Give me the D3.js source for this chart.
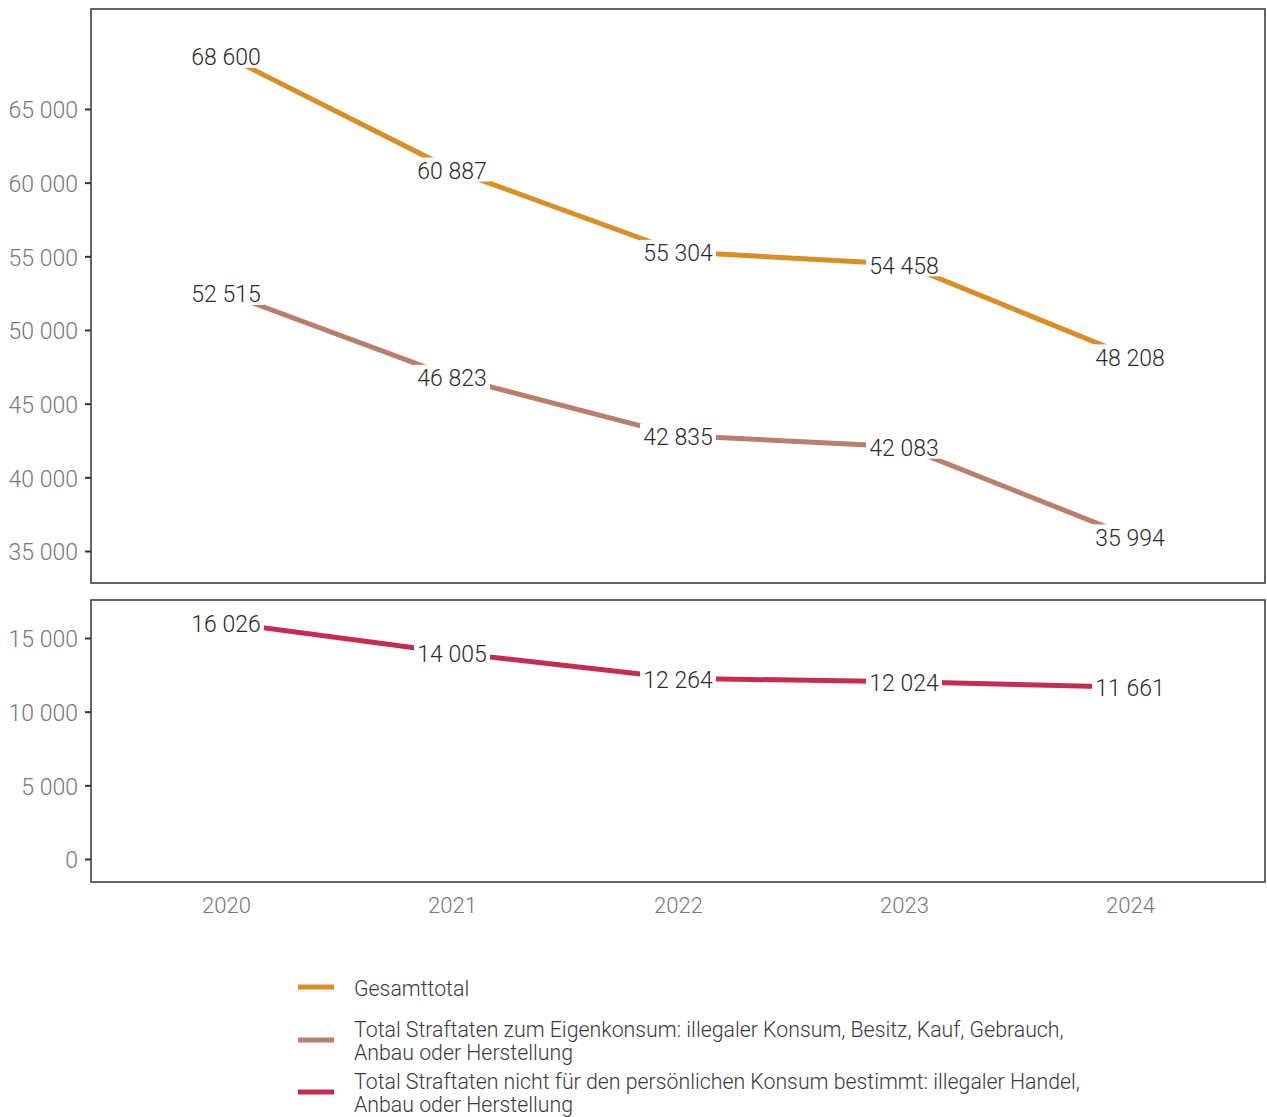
<!DOCTYPE html>
<html>
<head>
<meta charset="utf-8">
<script src="https://cdn.jsdelivr.net/npm/d3@7"></script>
<style>
  body { margin: 0; background: #fff; }
  svg text { font-family: Roboto, "Noto Sans", sans-serif; font-weight: 300; }
</style>
</head>
<body>
<svg id="chart" width="1267" height="1117"></svg>
<script>
// data
var years = [2020, 2021, 2022, 2023, 2024];
var gesamt = [68600, 60887, 55304, 54458, 48208];
var eigen = [52515, 46823, 42835, 42083, 35994];
var handel = [16026, 14005, 12264, 12024, 11661];
var topTicks = [35000, 40000, 45000, 50000, 55000, 60000, 65000];
var bottomTicks = [0, 5000, 10000, 15000];
var seriesNames = [
  ["Gesamttotal"],
  ["Total Straftaten zum Eigenkonsum: illegaler Konsum, Besitz, Kauf, Gebrauch,", "Anbau oder Herstellung"],
  ["Total Straftaten nicht für den persönlichen Konsum bestimmt: illegaler Handel,", "Anbau oder Herstellung"]
];
var colors = ["#d98f26", "#b97e6c", "#c82a50"];

var svg = d3.select("#chart");
var fmt = function(v) { return d3.format(",")(v).replace(/,/g, " "); };

var x = d3.scalePoint().domain(years).range([226, 1130]);
var left = 91, right = 1265;

var panels = [
  {top: 9, bottom: 583, domain: [32829, 71785], ticks: topTicks, series: [[gesamt, 0], [eigen, 1]]},
  {top: 600, bottom: 882, domain: [-1560, 17578], ticks: bottomTicks, series: [[handel, 2]]}
];

panels.forEach(function(p) {
  var y = d3.scaleLinear().domain(p.domain).range([p.bottom, p.top]);
  var g = svg.append("g");

  var yaxis = d3.axisLeft(y).tickValues(p.ticks).tickSize(6).tickPadding(7).tickFormat(fmt);
  var ga = g.append("g").attr("transform", "translate(" + left + ",0)").call(yaxis);
  ga.select(".domain").remove();
  ga.selectAll("line").attr("stroke", "#333").attr("stroke-width", 2);
  ga.selectAll("text").attr("font-size", "23px").attr("fill", "#787878").attr("dy", "0.38em")
    .style("font-family", "Roboto").style("font-weight", 300);

  var line = d3.line().x(function(d, i) { return x(years[i]); }).y(function(d) { return y(d); });

  p.series.forEach(function(s) {
    g.append("path").datum(s[0]).attr("d", line)
      .attr("fill", "none").attr("stroke", colors[s[1]]).attr("stroke-width", 5);
  });

  p.series.forEach(function(s) {
    var lab = g.selectAll(null).data(s[0]).enter().append("g")
      .attr("transform", function(d, i) { return "translate(" + x(years[i]) + "," + y(d) + ")"; });
    lab.append("rect").attr("x", -38).attr("y", -12).attr("width", 76).attr("height", 24).attr("fill", "#fff");
    lab.append("text").text(fmt).attr("text-anchor", "middle").attr("dy", "0.4em")
      .attr("font-size", "23px").attr("fill", "#2b2b2b");
  });

  g.append("rect").attr("x", left).attr("y", p.top)
    .attr("width", right - left).attr("height", p.bottom - p.top)
    .attr("fill", "none").attr("stroke", "#333").attr("stroke-width", 1.5);
});

// x axis labels
var xaxis = d3.axisBottom(x).tickSize(0).tickPadding(15);
var gx = svg.append("g").attr("transform", "translate(0,882)").call(xaxis);
gx.select(".domain").remove();
gx.selectAll("text").attr("font-size", "22px").attr("fill", "#787878")
  .style("font-family", "Roboto").style("font-weight", 300);

// legend
var legY = [987, 1040, 1092];
var leg = svg.append("g");
seriesNames.forEach(function(name, i) {
  leg.append("line").attr("x1", 298).attr("x2", 334).attr("y1", legY[i]).attr("y2", legY[i])
    .attr("stroke", colors[i]).attr("stroke-width", 5);
  var t = leg.append("text").attr("x", 354).attr("font-size", "21.3px").attr("fill", "#3a3a3a");
  var y0 = name.length === 1 ? legY[i] : legY[i] - 11.5;
  name.forEach(function(ln, j) {
    t.append("tspan").attr("x", 354).attr("y", y0 + j * 23).attr("dy", "0.4em").text(ln);
  });
});
</script>
</body>
</html>
